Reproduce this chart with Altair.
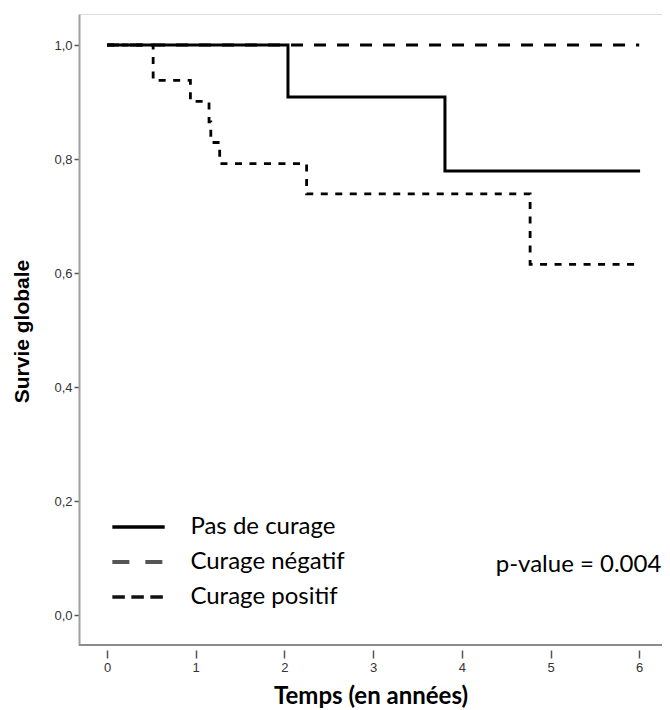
import altair as alt
import pandas as pd

# ---- data ----
groups = ["Pas de curage", "Curage négatif", "Curage positif"]

times_pas = [0, 2.04, 3.81, 6.01]
surv_pas = [1.0, 0.909, 0.779, 0.779]

times_neg = [0, 6.0]
surv_neg = [1.0, 1.0]

times_pos = [0, 0.52, 0.94, 1.15, 1.17, 1.27, 2.25, 4.77, 5.95]
surv_pos = [1.0, 0.938, 0.901, 0.865, 0.829, 0.792, 0.739, 0.615, 0.615]

x_ticks = [0, 1, 2, 3, 4, 5, 6]
y_ticks = [0.0, 0.2, 0.4, 0.6, 0.8, 1.0]

legend_y = [0.1544, 0.0930, 0.0316]
legend_x_start = [0.06, 0.06, 0.06]
legend_x_end = [0.65, 0.65, 0.65]
legend_text_x = [0.94, 0.94, 0.94]

pvalue_text = ["p-value = 0.004"]
pvalue_x = [6.25]
pvalue_y = [0.0877]

X_DOM = [-0.316, 6.257]
Y_DOM = [-0.0526, 1.0544]

# ---- tables ----
rows = []
for g, ts, ss in zip(groups, [times_pas, times_neg, times_pos], [surv_pas, surv_neg, surv_pos]):
    for t, s in zip(ts, ss):
        rows.append({"group": g, "t": t, "s": s})
df = pd.DataFrame(rows)

leg = pd.DataFrame({"group": groups, "y": legend_y, "x1": legend_x_start,
                    "x2": legend_x_end, "tx": legend_text_x})
pv = pd.DataFrame({"label": pvalue_text, "x": pvalue_x, "y": pvalue_y})

xs = alt.Scale(domain=X_DOM, nice=False, zero=False)
ys = alt.Scale(domain=Y_DOM, nice=False, zero=False)

TICK_FONT = "Liberation Sans Narrow, Liberation Sans"

x_axis = alt.Axis(values=x_ticks, format="d", domain=False, offset=5, tickSize=8, tickWidth=1.5,
                  tickColor="#555", labelColor="#333", labelFont=TICK_FONT,
                  labelFontSize=13, labelPadding=3, grid=False,
                  title="Temps (en années)", titleFont="Lato", titleFontSize=24,
                  titleFontWeight="bold", titleColor="#000", titleY=46,
                  titleAnchor="middle", titleAlign="center", titleBaseline="middle")
y_axis = alt.Axis(values=y_ticks, domain=True, domainColor="#a0a0a0", domainWidth=2,
                  tickSize=5, tickWidth=1.5, tickColor="#555", labelColor="#333",
                  labelFont=TICK_FONT, labelFontSize=13, labelPadding=2, grid=False,
                  labelExpr="replace(format(datum.value, '.1f'), '.', ',')",
                  title="Survie globale", titleFont="Liberation Sans", titleFontSize=21,
                  titleFontWeight="bold", titleColor="#000", titleAngle=-90,
                  titleX=-57, titleY=317, titleAlign="center", titleBaseline="middle")

base = alt.Chart(df)

def curve(g, dash, width):
    return base.transform_filter(alt.datum.group == g).mark_line(
        interpolate="step-after", color="#000", strokeWidth=width, strokeDash=dash
    ).encode(x=alt.X("t:Q", scale=xs, axis=x_axis), y=alt.Y("s:Q", scale=ys, axis=y_axis))

neg = curve("Curage négatif", [12, 11], 3)
pos = curve("Curage positif", [7, 7.5], 2.8)
pas = curve("Pas de curage", [1, 0], 3)

x_line = alt.Chart(pv).mark_rule(color="#8c8c8c", strokeWidth=2).encode(
    x=alt.datum(X_DOM[0], scale=xs), x2=alt.datum(X_DOM[1]), y=alt.datum(Y_DOM[0], scale=ys))

legbase = alt.Chart(leg)
def leg_line(g, dash, color, width):
    return legbase.transform_filter(alt.datum.group == g).mark_rule(
        color=color, strokeWidth=width, strokeDash=dash).encode(
        x=alt.X("x1:Q", scale=xs), x2="x2:Q", y=alt.Y("y:Q", scale=ys))

l1 = leg_line("Pas de curage", [1, 0], "#000", 3.5)
l2 = leg_line("Curage négatif", [17, 16], "#555", 4)
l3 = leg_line("Curage positif", [12.5, 6.5], "#111", 3.5)

leg_text = legbase.mark_text(align="left", baseline="middle", font="Lato", fontSize=24,
                             color="#000").encode(
    x=alt.X("tx:Q", scale=xs), y=alt.Y("y:Q", scale=ys), text="group:N")

pv_text = alt.Chart(pv).mark_text(align="right", baseline="middle", font="Lato",
                                  fontSize=24, color="#000").encode(
    x=alt.X("x:Q", scale=xs), y=alt.Y("y:Q", scale=ys), text="label:N")

chart = alt.layer(neg, pos, pas, x_line, l1, l2, l3, leg_text, pv_text).properties(
    width=583, height=631, autosize="none",
    padding={"left": 71, "top": 6, "right": 0, "bottom": 64},
).configure_view(stroke=None).configure(background="#ffffff")

chart.save("out.html", embed_options={"renderer": "svg", "actions": False})
